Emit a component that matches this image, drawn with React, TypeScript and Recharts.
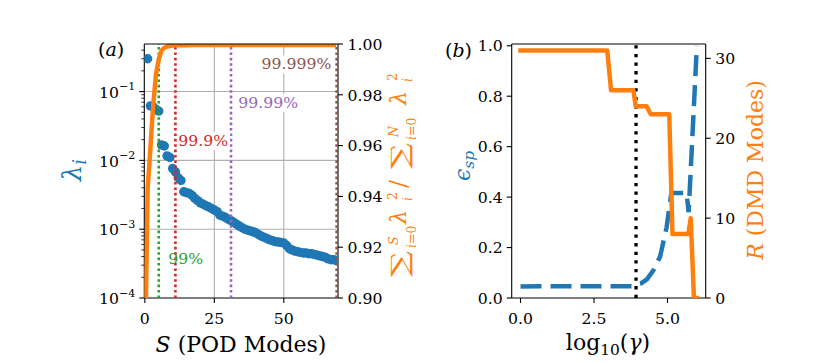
import React from 'react';
import { ComposedChart, Line, Scatter, XAxis, YAxis, ReferenceLine, ReferenceDot } from 'recharts';

const FONT = "'DejaVu Serif', serif";
const BLUE = '#1f77b4';
const ORANGE = '#ff7f0e';
const GRID = '#b0b0b0';
const TICK_FS = 15.7;

// ---------- Panel (a): POD ----------
const eigenvalues = [
  0.30, 0.062, 0.060, 0.055, 0.052, 0.0168, 0.0162, 0.0116, 0.0110, 0.0076,
  0.0068, 0.0056, 0.0051, 0.0035, 0.0034, 0.0033, 0.0031, 0.0028, 0.0026, 0.0024,
  0.0023, 0.0022, 0.0021, 0.0020, 0.0019, 0.0018, 0.0016, 0.00155, 0.00148, 0.00140,
  0.00133, 0.00125, 0.00118, 0.00111, 0.00105, 0.00100, 0.00097, 0.00094, 0.00092, 0.00088,
  0.00083, 0.00079, 0.00076, 0.00073, 0.00070, 0.00068, 0.00066, 0.00065, 0.00064, 0.00063,
  0.00058, 0.00052, 0.00050, 0.00048, 0.00047, 0.00046, 0.00045, 0.00045, 0.00044, 0.00044,
  0.00043, 0.00042, 0.00041, 0.00040, 0.00039, 0.00037, 0.00036, 0.00036, 0.00035,
];
const cumEnergy = [
  0.871, 0.943, 0.959, 0.976, 0.988, 0.9940, 0.9975, 0.9985, 0.9990, 0.9992,
  0.9994, 0.9995, 0.99952, 0.99953, 0.99954, 0.99955, 0.99955, 0.99956, 0.99956, 0.99957,
  0.99957, 0.99958, 0.99958, 0.99958, 0.99959, 0.99959, 0.99959, 0.99960, 0.99960, 0.99960,
  0.99960, 0.99961, 0.99961, 0.99961, 0.99961, 0.99961, 0.99962, 0.99962, 0.99962, 0.99962,
  0.99962, 0.99962, 0.99962, 0.99963, 0.99963, 0.99963, 0.99963, 0.99963, 0.99963, 0.99963,
  0.99963, 0.99963, 0.99963, 0.99963, 0.99963, 0.99963, 0.99963, 0.99963, 0.99963, 0.99963,
  0.99963, 0.99963, 0.99963, 0.99963, 0.99963, 0.99963, 0.99963, 0.99963, 0.99963,
];
const podXTicks = [0, 25, 50];
const lamMajorTicks = [1e-4, 1e-3, 1e-2, 1e-1];
const lamMinorTicks = [
  0.0002, 0.0003, 0.0004, 0.0005, 0.0006, 0.0007, 0.0008, 0.0009,
  0.002, 0.003, 0.004, 0.005, 0.006, 0.007, 0.008, 0.009,
  0.02, 0.03, 0.04, 0.05, 0.06, 0.07, 0.08, 0.09,
  0.2, 0.3, 0.4,
];
const energyTicks = [0.9, 0.92, 0.94, 0.96, 0.98, 1.0];
const thresholdModes = [5, 11, 31, 69];
const thresholdLabels = ['99%', '99.9%', '99.99%', '99.999%'];
const thresholdColors = ['#2ca02c', '#d62728', '#9467bd', '#8c564b'];
// label anchors in data coordinates (mode, eigenvalue)
const labelAnchorX = [8.4, 12.0, 33.6, 42.0];
const labelAnchorY = [3.07e-4, 0.0162, 0.0578, 0.2094];
const labelBox = [false, true, true, true];

// ---------- Panel (b): DMD ----------
const gammaEps = [0, 3.84, 3.95, 4.10, 4.30, 4.52, 4.75, 4.97, 5.13, 5.65, 5.72, 6.0];
const epsValues = [0.046, 0.047, 0.054, 0.058, 0.074, 0.11, 0.165, 0.28, 0.416, 0.416, 0.34, 1.0];
const gammaR = [0, 2.95, 3.08, 3.84, 3.92, 4.29, 4.43, 5.06, 5.17, 5.71, 5.79, 5.90, 6.0];
const rValues = [31, 31, 26, 26, 24, 24, 23, 23, 8, 8, 10, 0, 0];
const gammaTicks = [0, 2.5, 5];
const epsTicks = [0, 0.2, 0.4, 0.6, 0.8, 1.0];
const rTicks = [0, 10, 20, 30];
const gammaChosen = 3.93;

const lamData = eigenvalues.map((v, i) => ({ x: i + 1, y: v }));
const cumData = cumEnergy.map((v, i) => ({ x: i, c: v }));
const epsData = gammaEps.map((g, i) => ({ x: g, e: epsValues[i] }));
const rData = gammaR.map((g, i) => ({ x: g, r: rValues[i] }));
const lamTicks = [...lamMajorTicks, ...lamMinorTicks].sort((a, b) => a - b);

function LogTick(props: any) {
  const { x, y, payload } = props;
  const v = payload.value;
  const e = Math.log10(v);
  const major = Math.abs(e - Math.round(e)) < 1e-6;
  return (
    <g>
      <line x1={x} x2={x - (major ? 5 : 3)} y1={y} y2={y} stroke="#000" strokeWidth={major ? 1.1 : 0.8} />
      {major && (
        <text x={x - 9} y={y + 6.3} textAnchor="end" fontFamily={FONT} fontSize={TICK_FS} fill="#000">
          10<tspan dy={-7.5} fontSize={11}>{'\u2212' + String(-Math.round(e))}</tspan>
        </text>
      )}
    </g>
  );
}

function LeftTick(props: any) {
  const { x, y, payload, fmt } = props;
  return (
    <g>
      <line x1={x} x2={x - 5} y1={y} y2={y} stroke="#000" strokeWidth={1.1} />
      <text x={x - 9} y={y + 5.7} textAnchor="end" fontFamily={FONT} fontSize={TICK_FS} fill="#000">
        {fmt(payload.value)}
      </text>
    </g>
  );
}

function RightTick(props: any) {
  const { x, y, payload, fmt } = props;
  return (
    <g>
      <line x1={x} x2={x + 5} y1={y} y2={y} stroke="#000" strokeWidth={1.1} />
      <text x={x + 9.5} y={y + 5.7} textAnchor="start" fontFamily={FONT} fontSize={TICK_FS} fill="#000">
        {fmt(payload.value)}
      </text>
    </g>
  );
}

function BottomTick(props: any) {
  const { x, y, payload, fmt } = props;
  return (
    <g>
      <line x1={x} x2={x} y1={y} y2={y + 5} stroke="#000" strokeWidth={1.1} />
      <text x={x} y={y + 25.5} textAnchor="middle" fontFamily={FONT} fontSize={TICK_FS} fill="#000">
        {fmt(payload.value)}
      </text>
    </g>
  );
}

function AnnoLabel(props: any) {
  const { viewBox, text, color, box } = props;
  if (!viewBox) return null;
  const x = viewBox.x + (viewBox.width || 0) / 2;
  const y = viewBox.y + (viewBox.height || 0) / 2;
  const w = text.split('').reduce((a: number, c: string) => a + (c === '.' ? 0.318 : c === '%' ? 0.95 : 0.636), 0) * TICK_FS;
  return (
    <g>
      {box && <rect x={x - 1} y={y - 14} width={w + 3} height={18} fill="#fff" />}
      <text x={x} y={y} fill={color} fontFamily={FONT} fontSize={TICK_FS}>{text}</text>
    </g>
  );
}

const axisLine = { stroke: '#000', strokeWidth: 1.1 };

function PanelA() {
  return (
    <ComposedChart width={415} height={363} margin={{ top: 44, right: 27, bottom: 25, left: 94.3 }}>
      <XAxis
        dataKey="x"
        type="number"
        domain={[-0.2, 69.5]}
        allowDataOverflow
        ticks={podXTicks}
        interval={0}
        height={40}
        tickSize={0}
        tickMargin={0}
        tickLine={false}
        axisLine={axisLine}
        tick={(p: any) => <BottomTick {...p} fmt={(v: number) => String(v)} />}
      />
      <YAxis
        yAxisId="l"
        dataKey="y"
        type="number"
        scale="log"
        domain={[1e-4, 0.491]}
        allowDataOverflow
        ticks={lamTicks}
        interval={0}
        width={50}
        tickSize={0}
        tickMargin={0}
        tickLine={false}
        axisLine={axisLine}
        tick={(p: any) => <LogTick {...p} />}
      />
      <YAxis
        yAxisId="r"
        orientation="right"
        type="number"
        domain={[0.9, 1.0]}
        allowDataOverflow
        ticks={energyTicks}
        interval={0}
        width={50}
        tickSize={0}
        tickMargin={0}
        tickLine={false}
        axisLine={axisLine}
        tick={(p: any) => <RightTick {...p} fmt={(v: number) => v.toFixed(2)} />}
      />
      {lamMajorTicks.slice(1).map((v) => (
        <ReferenceLine key={'gy' + v} yAxisId="l" y={v} stroke={GRID} strokeWidth={1.1} zIndex={-100} />
      ))}
      {podXTicks.slice(1).map((v) => (
        <ReferenceLine key={'gx' + v} yAxisId="l" x={v} stroke={GRID} strokeWidth={1.1} zIndex={-100} />
      ))}
      <Scatter
        data={lamData}
        dataKey="y"
        yAxisId="l"
        isAnimationActive={false}
        zIndex={600}
        shape={(p: any) => <circle cx={p.cx} cy={p.cy} r={4.7} fill={BLUE} />}
      />
      {thresholdModes.map((m, i) => (
        <ReferenceLine
          key={'th' + m}
          yAxisId="l"
          x={m}
          stroke={thresholdColors[i]}
          strokeWidth={2.6}
          strokeDasharray="2.6 2.8"
          zIndex={650}
        />
      ))}
      {thresholdLabels.map((t, i) => (
        <ReferenceDot
          key={'lab' + t}
          yAxisId="l"
          x={labelAnchorX[i]}
          y={labelAnchorY[i]}
          r={0}
          fill="none"
          stroke="none"
          zIndex={2000}
          label={<AnnoLabel text={t} color={thresholdColors[i]} box={labelBox[i]} />}
        />
      ))}
      <Line
        data={cumData}
        dataKey="c"
        yAxisId="r"
        type="linear"
        stroke={ORANGE}
        strokeWidth={4.5}
        strokeLinejoin="round"
        strokeLinecap="square"
        dot={false}
        activeDot={false}
        isAnimationActive={false}
        zIndex={700}
      />
      <ReferenceLine yAxisId="r" y={1.0} stroke="#000" strokeWidth={1.1} zIndex={800} />
    </ComposedChart>
  );
}

function PanelB() {
  return (
    <ComposedChart width={415} height={363} margin={{ top: 44, right: 74.3, bottom: 25, left: 46.7 }}>
      <XAxis
        dataKey="x"
        type="number"
        domain={[-0.3, 6.3]}
        allowDataOverflow
        ticks={gammaTicks}
        interval={0}
        height={40}
        tickSize={0}
        tickMargin={0}
        tickLine={false}
        axisLine={axisLine}
        tick={(p: any) => <BottomTick {...p} fmt={(v: number) => v.toFixed(1)} />}
      />
      <YAxis
        yAxisId="e"
        type="number"
        domain={[0, 1.007]}
        allowDataOverflow
        ticks={epsTicks}
        interval={0}
        width={50}
        tickSize={0}
        tickMargin={0}
        tickLine={false}
        axisLine={axisLine}
        tick={(p: any) => <LeftTick {...p} fmt={(v: number) => v.toFixed(1)} />}
      />
      <YAxis
        yAxisId="r"
        orientation="right"
        type="number"
        domain={[0, 31.8]}
        allowDataOverflow
        ticks={rTicks}
        interval={0}
        width={50}
        tickSize={0}
        tickMargin={0}
        tickLine={false}
        axisLine={axisLine}
        tick={(p: any) => <RightTick {...p} fmt={(v: number) => String(v)} />}
      />
      <Line
        data={epsData}
        dataKey="e"
        yAxisId="e"
        type="linear"
        stroke={BLUE}
        strokeWidth={4.5}
        strokeDasharray="21 9"
        strokeLinecap="butt"
        dot={false}
        activeDot={false}
        isAnimationActive={false}
        zIndex={400}
      />
      <ReferenceLine
        yAxisId="e"
        x={gammaChosen}
        stroke="#000"
        strokeWidth={3.3}
        strokeDasharray="3.3 5.3"
        zIndex={450}
      />
      <Line
        data={rData}
        dataKey="r"
        yAxisId="r"
        type="linear"
        stroke={ORANGE}
        strokeWidth={4.5}
        strokeLinejoin="round"
        strokeLinecap="square"
        dot={false}
        activeDot={false}
        isAnimationActive={false}
        zIndex={700}
      />
      <ReferenceLine yAxisId="r" y={31.8} stroke="#000" strokeWidth={1.1} zIndex={800} />
    </ComposedChart>
  );
}

function Labels() {
  const sub = 12.5;
  return (
    <svg
      width={830}
      height={363}
      style={{ position: 'absolute', left: 0, top: 0, pointerEvents: 'none' }}
      fontFamily={FONT}
    >
      <text x={98} y={56} fontSize={19} fill="#000">(<tspan fontStyle="italic">a</tspan>)</text>
      <text x={445} y={57} fontSize={19} fill="#000">(<tspan fontStyle="italic">b</tspan>)</text>

      <text transform="translate(81,170) rotate(-90)" textAnchor="middle" fill={BLUE} fontSize={26}>
        <tspan fontStyle="italic">λ</tspan>
        <tspan fontStyle="italic" fontSize={18} dy={5}>i</tspan>
      </text>

      <text x={241} y={351.7} textAnchor="middle" fontSize={22} fill="#000">
        <tspan fontStyle="italic">S</tspan> (POD Modes)
      </text>

      <g transform="translate(406,277) rotate(-90)" fill={ORANGE}>
        <text x={0} y={2} fontSize={24} textLength={26} lengthAdjust="spacingAndGlyphs">∑</text>
        <text x={32} y={-8} fontSize={sub} fontStyle="italic">S</text>
        <text x={29} y={10} fontSize={sub}><tspan fontStyle="italic">i</tspan>=0</text>
        <text x={53} y={0} fontSize={22} fontStyle="italic">λ</text>
        <text x={77} y={-9} fontSize={sub}>2</text>
        <text x={76} y={6} fontSize={sub} fontStyle="italic">i</text>
        <text x={89} y={1} fontSize={24}>/</text>
        <text x={108} y={2} fontSize={24} textLength={26} lengthAdjust="spacingAndGlyphs">∑</text>
        <text x={140} y={-8} fontSize={sub} fontStyle="italic">N</text>
        <text x={137} y={10} fontSize={sub}><tspan fontStyle="italic">i</tspan>=0</text>
        <text x={172} y={0} fontSize={22} fontStyle="italic">λ</text>
        <text x={196} y={-9} fontSize={sub}>2</text>
        <text x={195} y={6} fontSize={sub} fontStyle="italic">i</text>
      </g>

      <text transform="translate(469.5,166) rotate(-90)" textAnchor="middle" fill={BLUE} fontSize={22}>
        <tspan fontStyle="italic">ϵ</tspan>
        <tspan fontStyle="italic" fontSize={15.5} dy={4}>sp</tspan>
      </text>

      <text transform="translate(763,170) rotate(-90)" textAnchor="middle" fill={ORANGE} fontSize={22}>
        <tspan fontStyle="italic">R</tspan> (DMD Modes)
      </text>

      <text x={608} y={350} textAnchor="middle" fontSize={22} fill="#000">
        log<tspan fontSize={15.4} dy={5}>10</tspan><tspan dy={-5}>(</tspan><tspan fontStyle="italic">γ</tspan>)
      </text>
    </svg>
  );
}

export default function App() {
  return (
    <div style={{ position: 'absolute', left: 0, top: 0, width: 830, height: 363, background: '#fff', overflow: 'hidden' }}>
      <div style={{ position: 'absolute', left: 0, top: 0 }}>
        <PanelA />
      </div>
      <div style={{ position: 'absolute', left: 415, top: 0 }}>
        <PanelB />
      </div>
      <Labels />
    </div>
  );
}
